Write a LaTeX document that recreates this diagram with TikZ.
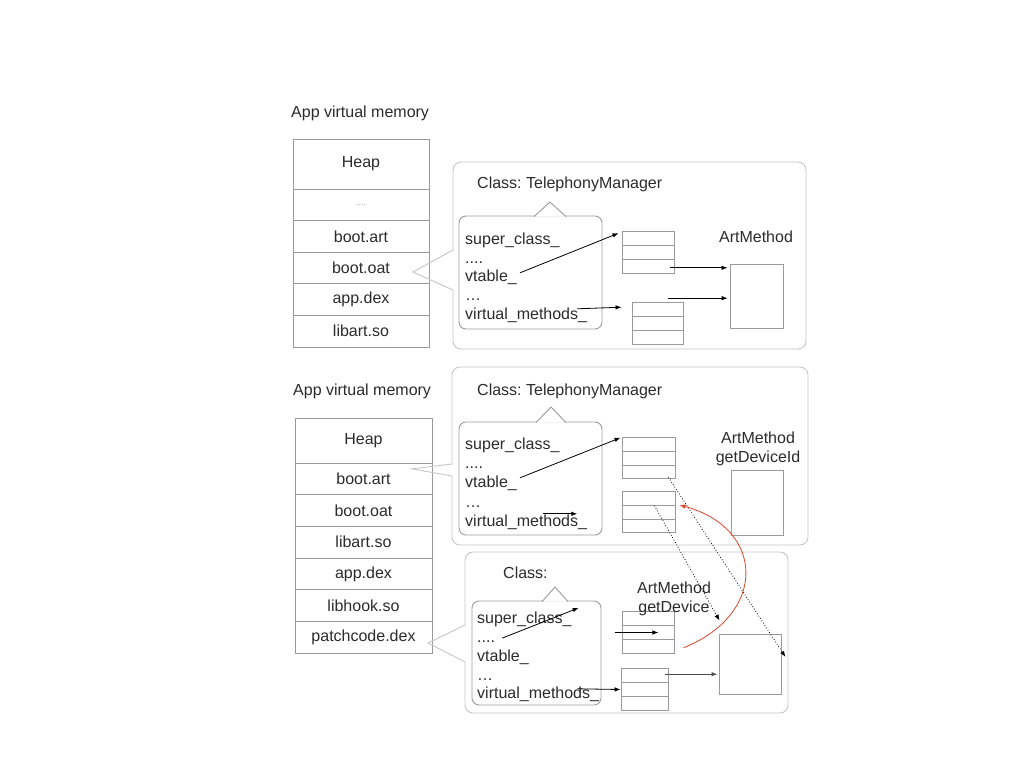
\documentclass[tikz,border=0pt]{standalone}
\usepackage{fontspec}
\setmainfont{Liberation Sans}
\usepackage{tikz}
\usetikzlibrary{arrows.meta,positioning,shapes.multipart}
\definecolor{Ink}{HTML}{2B2B2B}
\definecolor{Edge}{HTML}{9B9B9B}
\definecolor{Frame}{HTML}{C6C6C6}
\definecolor{Hook}{HTML}{D9442B}
\frenchspacing

\begin{document}
\begin{tikzpicture}[
    x=1pt,y=-1pt,
    font=\fontsize{16}{19}\selectfont,
    memrow/.style={draw=Edge,line width=0.9pt,minimum width=136pt,minimum height=31.6pt,
      inner sep=0pt,outer sep=0pt,text=Ink},
    tbl/.style={draw=Edge,line width=0.9pt,rectangle split,rectangle split parts=3,
      rectangle split empty part height=13pt,rectangle split empty part depth=0pt,
      rectangle split empty part width=0pt,inner sep=0pt,minimum width=52pt},
    meth/.style={draw=Edge,line width=0.9pt,minimum width=52pt,minimum height=64pt,inner sep=0pt},
    clsbox/.style={draw=Edge,line width=0.9pt,rounded corners=7pt,inner sep=0pt},
    notch/.style={draw=Edge,line width=0.9pt,fill=white},
    frame/.style={draw=Frame,line width=0.9pt,rounded corners=8pt},
    callout/.style={draw=Frame,line width=0.9pt},
    txt/.style={anchor=base west,inner sep=0pt,text=Ink},
    lbl/.style={anchor=base,inner sep=0pt,text=Ink},
    arr/.style={-{Latex[length=6pt,width=4.5pt]},line width=0.8pt},
    dotarr/.style={arr,dotted},
    hookarr/.style={-{Latex[length=6pt,width=4.5pt]},line width=0.8pt,draw=Hook}
  ]
    \useasboundingbox (0,0) rectangle (1024,768);

    % first memory map
    \node[txt] (mem1) at (291,117) {App virtual memory};
    \node[memrow,minimum height=50pt] (heap1) at (361,164) {Heap};
    \node[memrow,below=0pt of heap1,font=\fontsize{9}{10}\selectfont,text=Edge] (gap1) {....};
    \node[memrow,below=0pt of gap1] (art1) {boot.art};
    \node[memrow,below=0pt of art1] (oat1) {boot.oat};
    \node[memrow,below=0pt of oat1] (dex1) {app.dex};
    \node[memrow,below=0pt of dex1] (so1) {libart.so};

    \draw[frame] (453,290) -- (453,349) -- (806,349) -- (806,162) -- (453,162) -- (453,250);
    \draw[callout] (453,250) -- ([xshift=-16pt,yshift=-4pt]oat1.east) -- (453,290);

    \node[txt] (cls1) at (477,188) {Class: TelephonyManager};
    \node[clsbox,minimum width=143pt,minimum height=113pt] (box1) at (530.5,272.5) {};
    \draw[notch] (534,216.6) -- (550,202) -- (566,216.6);
    \node[txt] (sc1) at (465,244) {super\_class\_};
    \node[txt] (dt1) at (465,263) {....};
    \node[txt] (vt1) at (465,281) {vtable\_};
    \node[txt] (el1) at (465,300) {…};
    \node[txt] (vm1) at (465,319) {virtual\_methods\_};

    \node[tbl] (t1) at (648,252.5) {};
    \node[tbl,minimum width=51pt] (t2) at (657.5,323.5) {};
    \node[lbl] (am1l) at (756,242) {ArtMethod};
    \node[meth,minimum width=53pt] (am1) at (756.5,296) {};

    \draw[arr] ([xshift=3pt,yshift=4pt]vt1.east) -- ([xshift=-3pt,yshift=-2pt]t1.north west);
    \draw[arr] ([xshift=-10pt,yshift=6pt]vm1.east) -- ([xshift=-10pt,yshift=-5pt]t2.north west);
    \draw[arr,shorten >=2pt] ([xshift=-4pt,yshift=6pt]t1.south east) coordinate (p1) -- (p1 -| am1.west);
    \draw[arr,shorten >=2pt] ([xshift=-15pt,yshift=4pt]t2.north east) coordinate (p2) -- (p2 -| am1.west);

    % second memory map
    \node[txt] (mem2) at (293,395) {App virtual memory};
    \node[memrow,minimum width=137pt,minimum height=45pt] (heap2) at (363.5,440.5) {Heap};
    \node[memrow,minimum width=137pt,minimum height=31.7pt,below=0pt of heap2] (art2) {boot.art};
    \node[memrow,minimum width=137pt,minimum height=31.7pt,below=0pt of art2] (oat2) {boot.oat};
    \node[memrow,minimum width=137pt,minimum height=31.7pt,below=0pt of oat2] (so2) {libart.so};
    \node[memrow,minimum width=137pt,minimum height=31.7pt,below=0pt of so2] (dex2) {app.dex};
    \node[memrow,minimum width=137pt,minimum height=31.7pt,below=0pt of dex2] (hook2) {libhook.so};
    \node[memrow,minimum width=137pt,minimum height=31.7pt,below=0pt of hook2] (patch2) {patchcode.dex};

    \draw[frame] (452,476) -- (452,545) -- (808,545) -- (808,367) -- (452,367) -- (452,464);
    \draw[callout] (452,464) -- ([xshift=-20pt,yshift=10pt]art2.east) -- (452,476);
    \draw[frame] (465,662) -- (465,713) -- (788,713) -- (788,552) -- (465,552) -- (465,625);
    \draw[callout] (465,625) -- ([xshift=-4pt,yshift=-5.7pt]patch2.east) -- (465,662);

    \node[txt] (cls2) at (477,395) {Class: TelephonyManager};
    \node[clsbox,minimum width=143pt,minimum height=113pt] (box2) at (530.5,478.5) {};
    \draw[notch] (536,422.6) -- (551,407) -- (566,422.6);
    \node[txt] (sc2) at (465,449) {super\_class\_};
    \node[txt] (dt2) at (465,468) {....};
    \node[txt] (vt2) at (465,487) {vtable\_};
    \node[txt] (el2) at (465,507) {…};
    \node[txt] (vm2) at (465,526) {virtual\_methods\_};

    \node[tbl,minimum width=53pt,rectangle split empty part height=12.7pt] (ta) at (648.5,458) {};
    \node[tbl,minimum width=53pt,rectangle split empty part height=12.7pt] (tb) at (648.5,512) {};
    \node[lbl] (am2l) at (758,443) {ArtMethod};
    \node[lbl] (am2m) at (758,462) {getDeviceId};
    \node[meth,minimum height=65pt] (am2) at (757,502.5) {};

    \node[txt] (cls3) at (503,578) {Class:};
    \node[clsbox,minimum width=129pt,minimum height=104pt] (box3) at (536.5,653) {};
    \draw[notch] (542,601.6) -- (555,587) -- (568,601.6);
    \node[txt] (sc3) at (477,623) {super\_class\_};
    \node[txt] (dt3) at (477,642) {....};
    \node[txt] (vt3) at (477,661) {vtable\_};
    \node[txt] (el3) at (477,680) {…};
    \node[txt] (vm3) at (477,698) {virtual\_methods\_};

    \node[tbl] (tc) at (648,632.5) {};
    \node[tbl,minimum width=47pt,rectangle split empty part height=11.7pt] (td) at (644.5,689.5) {};
    \node[lbl] (am3l) at (674,593) {ArtMethod};
    \node[lbl] (am3m) at (674,612) {getDevice};
    \node[meth,minimum width=62pt,minimum height=60pt] (am3) at (750,664) {};

    \draw[arr] ([xshift=3pt,yshift=5pt]vt2.east) -- ([xshift=-1pt,yshift=-1pt]ta.north west);
    \draw[arr] ([xshift=-44pt,yshift=8pt]vm2.east) -- ([xshift=-10pt,yshift=8pt]vm2.east);
    \draw[dotarr] ([xshift=-7pt,yshift=2pt]ta.south east) -- ([xshift=4pt,yshift=7pt]am3.east);
    \draw[dotarr] ([xshift=-21pt,yshift=-15pt]tb.north east) -- ([xshift=1pt,yshift=13pt]am3.north west);
    \draw[hookarr] ([xshift=9pt,yshift=6pt]tc.south east) .. controls (768,614) and (765,528) .. ([xshift=4pt,yshift=7pt]tb.east);

    \draw[arr] ([xshift=7pt,yshift=3pt]dt3.east) -- ([xshift=7pt,yshift=11pt]sc3.east);
    \draw[arr] ([xshift=-59pt]tc.east) -- ([xshift=-16pt]tc.east);
    \draw[arr] ([xshift=-22pt,yshift=5pt]vm3.east) -- (td.west);
    \draw[arr,draw=black!70,line width=1.1pt,shorten >=1pt] ([xshift=-3pt,yshift=-6pt]td.north east) coordinate (p3) -- (p3 -| am3.west);
  \end{tikzpicture}
\end{document}
